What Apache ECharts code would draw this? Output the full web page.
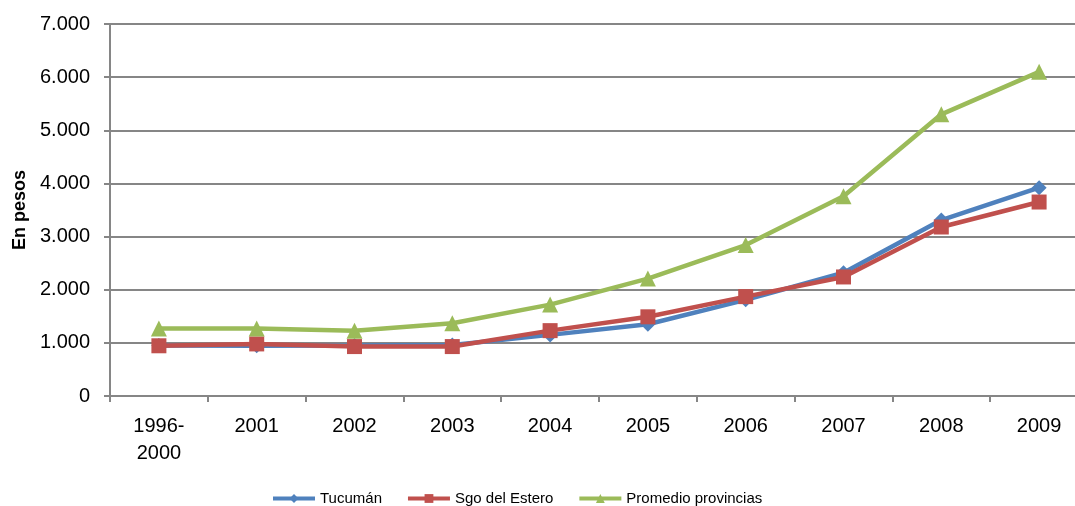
<!DOCTYPE html>
<html>
<head>
<meta charset="utf-8">
<script src="https://cdn.jsdelivr.net/npm/echarts@6/dist/echarts.min.js"></script>
<style>
  html, body { margin: 0; padding: 0; background: #fff; }
  #chart { width: 1075px; height: 506px; }
</style>
</head>
<body>
<div id="chart"></div>
<script>
// Categories (years)
const categories = ['1996-\n2000', '2001', '2002', '2003', '2004', '2005', '2006', '2007', '2008', '2009'];

// Values in pesos
const tucuman = [950, 945, 950, 960, 1150, 1350, 1810, 2320, 3310, 3920];
const sgoDelEstero = [945, 980, 930, 930, 1230, 1490, 1870, 2240, 3180, 3650];
const promedioProvincias = [1270, 1270, 1230, 1370, 1720, 2210, 2840, 3760, 5300, 6100];

const seriesNames = ['Tucumán', 'Sgo del Estero', 'Promedio provincias'];

const FONT = 'Liberation Sans, Arial, sans-serif';
const chart = echarts.init(document.getElementById('chart'), null, { renderer: 'canvas' });

function lineSeries(name, data, color, symbol, size) {
  return {
    name, type: 'line', data,
    symbol, symbolSize: size,
    lineStyle: { color, width: 4.5 },
    itemStyle: { color },
    emphasis: { disabled: true },
    animation: false
  };
}

chart.setOption({
  animation: false,
  grid: {
    left: 110, top: 24, width: 978, height: 372,
    containLabel: false, outerBoundsMode: 'none'
  },
  legend: {
    top: 486,
    left: 266,
    itemWidth: 42,
    itemHeight: 11,
    itemGap: 24,
    lineStyle: { width: 4 },
    textStyle: { fontFamily: FONT, fontSize: 15, color: '#000' },
    data: seriesNames
  },
  xAxis: {
    type: 'category',
    data: categories,
    boundaryGap: true,
    axisLine: { lineStyle: { color: '#868686', width: 2 } },
    axisTick: { show: true, length: 6, lineStyle: { color: '#868686', width: 2 } },
    axisLabel: { fontFamily: FONT, fontSize: 20, color: '#000', margin: 17, lineHeight: 27 }
  },
  yAxis: {
    type: 'value',
    min: 0, max: 7000, interval: 1000,
    name: 'En pesos',
    nameLocation: 'middle',
    nameGap: 80,
    nameTextStyle: { fontFamily: FONT, fontSize: 18, fontWeight: 'bold', color: '#000' },
    axisLine: { show: true, lineStyle: { color: '#868686', width: 2 } },
    axisTick: { show: true, length: 6, lineStyle: { color: '#868686', width: 2 } },
    splitLine: { lineStyle: { color: '#868686', width: 2 } },
    axisLabel: {
      fontFamily: FONT, fontSize: 20, color: '#000', margin: 20,
      formatter: v => v === 0 ? '0' : (v / 1000).toFixed(0) + '.000'
    }
  },
  series: [
    lineSeries(seriesNames[0], tucuman, '#4F81BD', 'diamond', 15),
    lineSeries(seriesNames[1], sgoDelEstero, '#C0504D', 'rect', 15),
    lineSeries(seriesNames[2], promedioProvincias, '#9BBB59', 'triangle', 16)
  ]
});
</script>
</body>
</html>
